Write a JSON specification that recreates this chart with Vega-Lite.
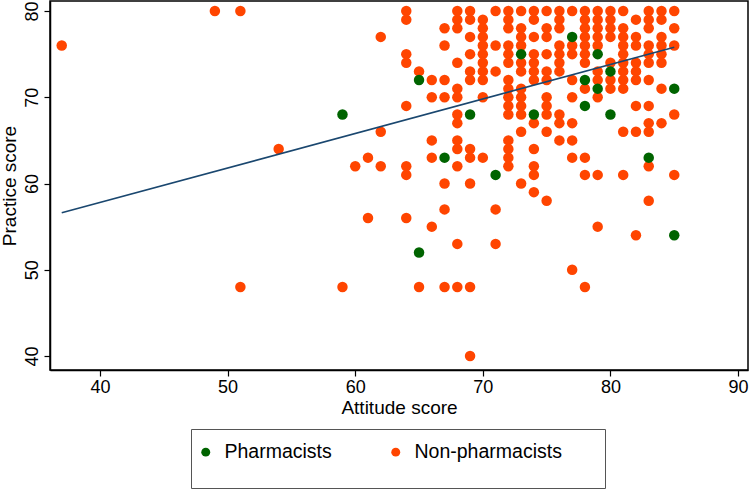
{
  "$schema": "https://vega.github.io/schema/vega-lite/v6.json",
  "width": 698,
  "height": 369,
  "autosize": "none",
  "padding": {"left": 50, "top": 1, "right": 2, "bottom": 119},
  "background": "white",
  "config": {
    "view": {"stroke": "black", "strokeWidth": 1.5},
    "font": "Liberation Sans",
    "axis": {"grid": false, "domainColor": "black", "domainWidth": 1.5, "tickColor": "black", "tickWidth": 1.2, "tickSize": 6, "labelColor": "black", "titleColor": "black", "labelFontSize": 18, "titleFontSize": 19, "titleFontWeight": "normal", "labelFont": "Liberation Sans", "titleFont": "Liberation Sans"}
  },
  "datasets": {
    "points": [
      {"attitude": 37, "practice": 76, "group": "Non-pharmacists"},
      {"attitude": 49, "practice": 80, "group": "Non-pharmacists"},
      {"attitude": 51, "practice": 80, "group": "Non-pharmacists"},
      {"attitude": 51, "practice": 48, "group": "Non-pharmacists"},
      {"attitude": 54, "practice": 64, "group": "Non-pharmacists"},
      {"attitude": 59, "practice": 48, "group": "Non-pharmacists"},
      {"attitude": 60, "practice": 62, "group": "Non-pharmacists"},
      {"attitude": 61, "practice": 63, "group": "Non-pharmacists"},
      {"attitude": 61, "practice": 56, "group": "Non-pharmacists"},
      {"attitude": 62, "practice": 77, "group": "Non-pharmacists"},
      {"attitude": 62, "practice": 66, "group": "Non-pharmacists"},
      {"attitude": 62, "practice": 62, "group": "Non-pharmacists"},
      {"attitude": 64, "practice": 80, "group": "Non-pharmacists"},
      {"attitude": 64, "practice": 79, "group": "Non-pharmacists"},
      {"attitude": 64, "practice": 75, "group": "Non-pharmacists"},
      {"attitude": 64, "practice": 74, "group": "Non-pharmacists"},
      {"attitude": 64, "practice": 69, "group": "Non-pharmacists"},
      {"attitude": 64, "practice": 62, "group": "Non-pharmacists"},
      {"attitude": 64, "practice": 61, "group": "Non-pharmacists"},
      {"attitude": 64, "practice": 56, "group": "Non-pharmacists"},
      {"attitude": 65, "practice": 73, "group": "Non-pharmacists"},
      {"attitude": 65, "practice": 48, "group": "Non-pharmacists"},
      {"attitude": 66, "practice": 72, "group": "Non-pharmacists"},
      {"attitude": 66, "practice": 70, "group": "Non-pharmacists"},
      {"attitude": 66, "practice": 65, "group": "Non-pharmacists"},
      {"attitude": 66, "practice": 63, "group": "Non-pharmacists"},
      {"attitude": 66, "practice": 55, "group": "Non-pharmacists"},
      {"attitude": 67, "practice": 78, "group": "Non-pharmacists"},
      {"attitude": 67, "practice": 76, "group": "Non-pharmacists"},
      {"attitude": 67, "practice": 72, "group": "Non-pharmacists"},
      {"attitude": 67, "practice": 70, "group": "Non-pharmacists"},
      {"attitude": 67, "practice": 60, "group": "Non-pharmacists"},
      {"attitude": 67, "practice": 57, "group": "Non-pharmacists"},
      {"attitude": 67, "practice": 48, "group": "Non-pharmacists"},
      {"attitude": 68, "practice": 80, "group": "Non-pharmacists"},
      {"attitude": 68, "practice": 79, "group": "Non-pharmacists"},
      {"attitude": 68, "practice": 78, "group": "Non-pharmacists"},
      {"attitude": 68, "practice": 74, "group": "Non-pharmacists"},
      {"attitude": 68, "practice": 71, "group": "Non-pharmacists"},
      {"attitude": 68, "practice": 70, "group": "Non-pharmacists"},
      {"attitude": 68, "practice": 68, "group": "Non-pharmacists"},
      {"attitude": 68, "practice": 67, "group": "Non-pharmacists"},
      {"attitude": 68, "practice": 65, "group": "Non-pharmacists"},
      {"attitude": 68, "practice": 64, "group": "Non-pharmacists"},
      {"attitude": 68, "practice": 62, "group": "Non-pharmacists"},
      {"attitude": 68, "practice": 53, "group": "Non-pharmacists"},
      {"attitude": 68, "practice": 48, "group": "Non-pharmacists"},
      {"attitude": 69, "practice": 80, "group": "Non-pharmacists"},
      {"attitude": 69, "practice": 79, "group": "Non-pharmacists"},
      {"attitude": 69, "practice": 77, "group": "Non-pharmacists"},
      {"attitude": 69, "practice": 75, "group": "Non-pharmacists"},
      {"attitude": 69, "practice": 73, "group": "Non-pharmacists"},
      {"attitude": 69, "practice": 72, "group": "Non-pharmacists"},
      {"attitude": 69, "practice": 64, "group": "Non-pharmacists"},
      {"attitude": 69, "practice": 63, "group": "Non-pharmacists"},
      {"attitude": 69, "practice": 60, "group": "Non-pharmacists"},
      {"attitude": 69, "practice": 48, "group": "Non-pharmacists"},
      {"attitude": 69, "practice": 40, "group": "Non-pharmacists"},
      {"attitude": 70, "practice": 79, "group": "Non-pharmacists"},
      {"attitude": 70, "practice": 78, "group": "Non-pharmacists"},
      {"attitude": 70, "practice": 77, "group": "Non-pharmacists"},
      {"attitude": 70, "practice": 76, "group": "Non-pharmacists"},
      {"attitude": 70, "practice": 75, "group": "Non-pharmacists"},
      {"attitude": 70, "practice": 74, "group": "Non-pharmacists"},
      {"attitude": 70, "practice": 73, "group": "Non-pharmacists"},
      {"attitude": 70, "practice": 72, "group": "Non-pharmacists"},
      {"attitude": 70, "practice": 70, "group": "Non-pharmacists"},
      {"attitude": 70, "practice": 63, "group": "Non-pharmacists"},
      {"attitude": 71, "practice": 80, "group": "Non-pharmacists"},
      {"attitude": 71, "practice": 76, "group": "Non-pharmacists"},
      {"attitude": 71, "practice": 73, "group": "Non-pharmacists"},
      {"attitude": 71, "practice": 57, "group": "Non-pharmacists"},
      {"attitude": 71, "practice": 53, "group": "Non-pharmacists"},
      {"attitude": 72, "practice": 80, "group": "Non-pharmacists"},
      {"attitude": 72, "practice": 79, "group": "Non-pharmacists"},
      {"attitude": 72, "practice": 78, "group": "Non-pharmacists"},
      {"attitude": 72, "practice": 76, "group": "Non-pharmacists"},
      {"attitude": 72, "practice": 75, "group": "Non-pharmacists"},
      {"attitude": 72, "practice": 74, "group": "Non-pharmacists"},
      {"attitude": 72, "practice": 72, "group": "Non-pharmacists"},
      {"attitude": 72, "practice": 71, "group": "Non-pharmacists"},
      {"attitude": 72, "practice": 70, "group": "Non-pharmacists"},
      {"attitude": 72, "practice": 69, "group": "Non-pharmacists"},
      {"attitude": 72, "practice": 68, "group": "Non-pharmacists"},
      {"attitude": 72, "practice": 65, "group": "Non-pharmacists"},
      {"attitude": 72, "practice": 64, "group": "Non-pharmacists"},
      {"attitude": 72, "practice": 63, "group": "Non-pharmacists"},
      {"attitude": 72, "practice": 62, "group": "Non-pharmacists"},
      {"attitude": 73, "practice": 80, "group": "Non-pharmacists"},
      {"attitude": 73, "practice": 78, "group": "Non-pharmacists"},
      {"attitude": 73, "practice": 77, "group": "Non-pharmacists"},
      {"attitude": 73, "practice": 76, "group": "Non-pharmacists"},
      {"attitude": 73, "practice": 74, "group": "Non-pharmacists"},
      {"attitude": 73, "practice": 73, "group": "Non-pharmacists"},
      {"attitude": 73, "practice": 71, "group": "Non-pharmacists"},
      {"attitude": 73, "practice": 70, "group": "Non-pharmacists"},
      {"attitude": 73, "practice": 69, "group": "Non-pharmacists"},
      {"attitude": 73, "practice": 68, "group": "Non-pharmacists"},
      {"attitude": 73, "practice": 66, "group": "Non-pharmacists"},
      {"attitude": 73, "practice": 60, "group": "Non-pharmacists"},
      {"attitude": 74, "practice": 80, "group": "Non-pharmacists"},
      {"attitude": 74, "practice": 79, "group": "Non-pharmacists"},
      {"attitude": 74, "practice": 77, "group": "Non-pharmacists"},
      {"attitude": 74, "practice": 75, "group": "Non-pharmacists"},
      {"attitude": 74, "practice": 74, "group": "Non-pharmacists"},
      {"attitude": 74, "practice": 73, "group": "Non-pharmacists"},
      {"attitude": 74, "practice": 72, "group": "Non-pharmacists"},
      {"attitude": 74, "practice": 67, "group": "Non-pharmacists"},
      {"attitude": 74, "practice": 64, "group": "Non-pharmacists"},
      {"attitude": 74, "practice": 62, "group": "Non-pharmacists"},
      {"attitude": 74, "practice": 61, "group": "Non-pharmacists"},
      {"attitude": 74, "practice": 59, "group": "Non-pharmacists"},
      {"attitude": 75, "practice": 80, "group": "Non-pharmacists"},
      {"attitude": 75, "practice": 78, "group": "Non-pharmacists"},
      {"attitude": 75, "practice": 77, "group": "Non-pharmacists"},
      {"attitude": 75, "practice": 75, "group": "Non-pharmacists"},
      {"attitude": 75, "practice": 73, "group": "Non-pharmacists"},
      {"attitude": 75, "practice": 72, "group": "Non-pharmacists"},
      {"attitude": 75, "practice": 70, "group": "Non-pharmacists"},
      {"attitude": 75, "practice": 69, "group": "Non-pharmacists"},
      {"attitude": 75, "practice": 68, "group": "Non-pharmacists"},
      {"attitude": 75, "practice": 66, "group": "Non-pharmacists"},
      {"attitude": 75, "practice": 58, "group": "Non-pharmacists"},
      {"attitude": 76, "practice": 80, "group": "Non-pharmacists"},
      {"attitude": 76, "practice": 79, "group": "Non-pharmacists"},
      {"attitude": 76, "practice": 78, "group": "Non-pharmacists"},
      {"attitude": 76, "practice": 76, "group": "Non-pharmacists"},
      {"attitude": 76, "practice": 75, "group": "Non-pharmacists"},
      {"attitude": 76, "practice": 74, "group": "Non-pharmacists"},
      {"attitude": 76, "practice": 73, "group": "Non-pharmacists"},
      {"attitude": 76, "practice": 68, "group": "Non-pharmacists"},
      {"attitude": 76, "practice": 67, "group": "Non-pharmacists"},
      {"attitude": 76, "practice": 65, "group": "Non-pharmacists"},
      {"attitude": 77, "practice": 80, "group": "Non-pharmacists"},
      {"attitude": 77, "practice": 76, "group": "Non-pharmacists"},
      {"attitude": 77, "practice": 75, "group": "Non-pharmacists"},
      {"attitude": 77, "practice": 72, "group": "Non-pharmacists"},
      {"attitude": 77, "practice": 70, "group": "Non-pharmacists"},
      {"attitude": 77, "practice": 67, "group": "Non-pharmacists"},
      {"attitude": 77, "practice": 65, "group": "Non-pharmacists"},
      {"attitude": 77, "practice": 63, "group": "Non-pharmacists"},
      {"attitude": 77, "practice": 50, "group": "Non-pharmacists"},
      {"attitude": 78, "practice": 80, "group": "Non-pharmacists"},
      {"attitude": 78, "practice": 79, "group": "Non-pharmacists"},
      {"attitude": 78, "practice": 78, "group": "Non-pharmacists"},
      {"attitude": 78, "practice": 77, "group": "Non-pharmacists"},
      {"attitude": 78, "practice": 76, "group": "Non-pharmacists"},
      {"attitude": 78, "practice": 75, "group": "Non-pharmacists"},
      {"attitude": 78, "practice": 74, "group": "Non-pharmacists"},
      {"attitude": 78, "practice": 71, "group": "Non-pharmacists"},
      {"attitude": 78, "practice": 63, "group": "Non-pharmacists"},
      {"attitude": 78, "practice": 61, "group": "Non-pharmacists"},
      {"attitude": 78, "practice": 48, "group": "Non-pharmacists"},
      {"attitude": 79, "practice": 80, "group": "Non-pharmacists"},
      {"attitude": 79, "practice": 79, "group": "Non-pharmacists"},
      {"attitude": 79, "practice": 78, "group": "Non-pharmacists"},
      {"attitude": 79, "practice": 77, "group": "Non-pharmacists"},
      {"attitude": 79, "practice": 76, "group": "Non-pharmacists"},
      {"attitude": 79, "practice": 73, "group": "Non-pharmacists"},
      {"attitude": 79, "practice": 72, "group": "Non-pharmacists"},
      {"attitude": 79, "practice": 70, "group": "Non-pharmacists"},
      {"attitude": 79, "practice": 61, "group": "Non-pharmacists"},
      {"attitude": 79, "practice": 55, "group": "Non-pharmacists"},
      {"attitude": 80, "practice": 80, "group": "Non-pharmacists"},
      {"attitude": 80, "practice": 79, "group": "Non-pharmacists"},
      {"attitude": 80, "practice": 78, "group": "Non-pharmacists"},
      {"attitude": 80, "practice": 77, "group": "Non-pharmacists"},
      {"attitude": 80, "practice": 74, "group": "Non-pharmacists"},
      {"attitude": 80, "practice": 72, "group": "Non-pharmacists"},
      {"attitude": 80, "practice": 71, "group": "Non-pharmacists"},
      {"attitude": 81, "practice": 80, "group": "Non-pharmacists"},
      {"attitude": 81, "practice": 78, "group": "Non-pharmacists"},
      {"attitude": 81, "practice": 77, "group": "Non-pharmacists"},
      {"attitude": 81, "practice": 76, "group": "Non-pharmacists"},
      {"attitude": 81, "practice": 75, "group": "Non-pharmacists"},
      {"attitude": 81, "practice": 74, "group": "Non-pharmacists"},
      {"attitude": 81, "practice": 73, "group": "Non-pharmacists"},
      {"attitude": 81, "practice": 72, "group": "Non-pharmacists"},
      {"attitude": 81, "practice": 71, "group": "Non-pharmacists"},
      {"attitude": 81, "practice": 66, "group": "Non-pharmacists"},
      {"attitude": 81, "practice": 61, "group": "Non-pharmacists"},
      {"attitude": 82, "practice": 79, "group": "Non-pharmacists"},
      {"attitude": 82, "practice": 77, "group": "Non-pharmacists"},
      {"attitude": 82, "practice": 76, "group": "Non-pharmacists"},
      {"attitude": 82, "practice": 74, "group": "Non-pharmacists"},
      {"attitude": 82, "practice": 73, "group": "Non-pharmacists"},
      {"attitude": 82, "practice": 72, "group": "Non-pharmacists"},
      {"attitude": 82, "practice": 69, "group": "Non-pharmacists"},
      {"attitude": 82, "practice": 66, "group": "Non-pharmacists"},
      {"attitude": 82, "practice": 54, "group": "Non-pharmacists"},
      {"attitude": 83, "practice": 80, "group": "Non-pharmacists"},
      {"attitude": 83, "practice": 79, "group": "Non-pharmacists"},
      {"attitude": 83, "practice": 78, "group": "Non-pharmacists"},
      {"attitude": 83, "practice": 76, "group": "Non-pharmacists"},
      {"attitude": 83, "practice": 75, "group": "Non-pharmacists"},
      {"attitude": 83, "practice": 74, "group": "Non-pharmacists"},
      {"attitude": 83, "practice": 72, "group": "Non-pharmacists"},
      {"attitude": 83, "practice": 69, "group": "Non-pharmacists"},
      {"attitude": 83, "practice": 67, "group": "Non-pharmacists"},
      {"attitude": 83, "practice": 66, "group": "Non-pharmacists"},
      {"attitude": 83, "practice": 62, "group": "Non-pharmacists"},
      {"attitude": 83, "practice": 58, "group": "Non-pharmacists"},
      {"attitude": 84, "practice": 80, "group": "Non-pharmacists"},
      {"attitude": 84, "practice": 79, "group": "Non-pharmacists"},
      {"attitude": 84, "practice": 77, "group": "Non-pharmacists"},
      {"attitude": 84, "practice": 76, "group": "Non-pharmacists"},
      {"attitude": 84, "practice": 75, "group": "Non-pharmacists"},
      {"attitude": 84, "practice": 74, "group": "Non-pharmacists"},
      {"attitude": 84, "practice": 71, "group": "Non-pharmacists"},
      {"attitude": 84, "practice": 67, "group": "Non-pharmacists"},
      {"attitude": 85, "practice": 80, "group": "Non-pharmacists"},
      {"attitude": 85, "practice": 78, "group": "Non-pharmacists"},
      {"attitude": 85, "practice": 76, "group": "Non-pharmacists"},
      {"attitude": 85, "practice": 68, "group": "Non-pharmacists"},
      {"attitude": 85, "practice": 61, "group": "Non-pharmacists"},
      {"attitude": 59, "practice": 68, "group": "Pharmacists"},
      {"attitude": 65, "practice": 72, "group": "Pharmacists"},
      {"attitude": 65, "practice": 52, "group": "Pharmacists"},
      {"attitude": 67, "practice": 63, "group": "Pharmacists"},
      {"attitude": 69, "practice": 68, "group": "Pharmacists"},
      {"attitude": 71, "practice": 61, "group": "Pharmacists"},
      {"attitude": 73, "practice": 75, "group": "Pharmacists"},
      {"attitude": 74, "practice": 68, "group": "Pharmacists"},
      {"attitude": 77, "practice": 77, "group": "Pharmacists"},
      {"attitude": 78, "practice": 72, "group": "Pharmacists"},
      {"attitude": 78, "practice": 69, "group": "Pharmacists"},
      {"attitude": 79, "practice": 75, "group": "Pharmacists"},
      {"attitude": 79, "practice": 71, "group": "Pharmacists"},
      {"attitude": 80, "practice": 73, "group": "Pharmacists"},
      {"attitude": 80, "practice": 68, "group": "Pharmacists"},
      {"attitude": 83, "practice": 63, "group": "Pharmacists"},
      {"attitude": 85, "practice": 71, "group": "Pharmacists"},
      {"attitude": 85, "practice": 54, "group": "Pharmacists"}
    ],
    "fit": [
      {"attitude": 37, "practice": 56.6},
      {"attitude": 85, "practice": 75.8}
    ]
  },
  "layer": [
    {
      "data": {"name": "points"},
      "mark": {"type": "circle", "size": 110, "opacity": 1},
      "encoding": {
        "x": {"field": "attitude", "type": "quantitative", "scale": {"domain": [36.08, 90.78], "nice": false, "zero": false},
              "axis": {"title": "Attitude score", "values": [40, 50, 60, 70, 80, 90], "labelPadding": 2, "titlePadding": 2}},
        "y": {"field": "practice", "type": "quantitative", "scale": {"domain": [38.38, 81.16], "nice": false, "zero": false},
              "axis": {"title": "Practice score", "values": [40, 50, 60, 70, 80], "labelAngle": -90, "labelAlign": "center", "labelBaseline": "bottom", "labelPadding": 3, "titlePadding": 4}},
        "color": {"field": "group", "type": "nominal",
                  "scale": {"domain": ["Pharmacists", "Non-pharmacists"], "range": ["#006400", "#ff4500"]},
                  "legend": {"orient": "none", "legendX": 141, "legendY": 428, "direction": "horizontal",
                             "title": " ", "titleOrient": "bottom", "titleFontSize": 10, "titlePadding": 3,
                             "strokeColor": "#555555", "padding": 13, "symbolType": "circle", "symbolSize": 80,
                             "symbolOffset": -8,
                             "symbolStrokeWidth": 0, "labelFontSize": 19.5, "labelColor": "black", "labelFont": "Liberation Sans",
                             "columnPadding": 59, "labelOffset": 9, "labelLimit": 400,
                             "labelExpr": "datum.label == 'Non-pharmacists' ? datum.label + '\u2800\u2800' : datum.label"}}
      }
    },
    {
      "data": {"name": "fit"},
      "mark": {"type": "line", "color": "#1a476f", "strokeWidth": 1.6},
      "encoding": {
        "x": {"field": "attitude", "type": "quantitative"},
        "y": {"field": "practice", "type": "quantitative"}
      }
    }
  ]
}
